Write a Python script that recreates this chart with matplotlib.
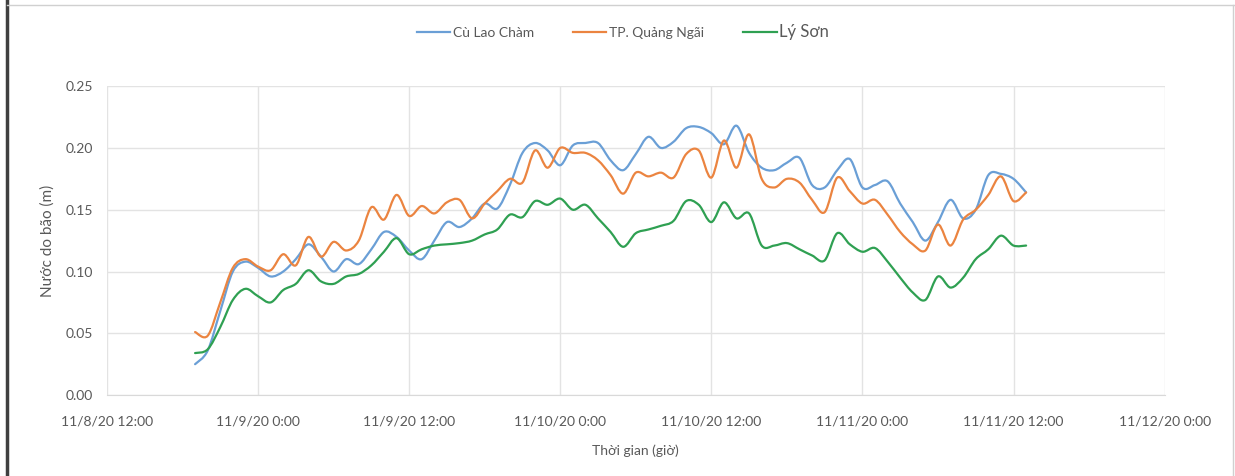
import matplotlib
matplotlib.use("Agg")
import matplotlib.pyplot as plt
import matplotlib.dates as mdates
from matplotlib.ticker import FuncFormatter
from matplotlib.lines import Line2D
from matplotlib.path import Path
from matplotlib.patches import PathPatch
import pandas as pd

plt.rcParams["font.family"] = ["Lato", "DejaVu Sans"]

# hourly readings, 11/8/20 19:00 -> 11/11/20 13:00
times = pd.date_range("2020-11-08 19:00", "2020-11-11 13:00", freq="h")

cu_lao_cham = [
    0.025, 0.036, 0.068, 0.100, 0.108, 0.103, 0.096, 0.100, 0.110, 0.122,
    0.112, 0.100, 0.110, 0.106, 0.118, 0.132, 0.128, 0.117, 0.110, 0.125,
    0.140, 0.136, 0.143, 0.155, 0.151, 0.170, 0.196, 0.204, 0.198, 0.186,
    0.202, 0.204, 0.204, 0.190, 0.182, 0.195, 0.209, 0.200, 0.205, 0.216,
    0.217, 0.212, 0.203, 0.218, 0.196, 0.184, 0.182, 0.188, 0.192, 0.170,
    0.168, 0.182, 0.191, 0.168, 0.170, 0.173, 0.155, 0.140, 0.125, 0.140,
    0.158, 0.143, 0.150, 0.178, 0.179, 0.175, 0.164,
]
quang_ngai = [
    0.051, 0.048, 0.075, 0.103, 0.110, 0.104, 0.101, 0.114, 0.105, 0.128,
    0.112, 0.124, 0.117, 0.125, 0.152, 0.142, 0.162, 0.145, 0.153, 0.147,
    0.156, 0.158, 0.143, 0.155, 0.165, 0.175, 0.172, 0.198, 0.184, 0.200,
    0.196, 0.196, 0.190, 0.178, 0.163, 0.180, 0.177, 0.180, 0.176, 0.195,
    0.198, 0.176, 0.206, 0.184, 0.211, 0.175, 0.168, 0.175, 0.172, 0.158,
    0.148, 0.176, 0.165, 0.155, 0.158, 0.146, 0.132, 0.122, 0.117, 0.138,
    0.121, 0.142, 0.150, 0.162, 0.177, 0.157, 0.164,
]
ly_son = [
    0.034, 0.037, 0.055, 0.077, 0.086, 0.080, 0.075, 0.085, 0.090, 0.101,
    0.092, 0.090, 0.096, 0.098, 0.105, 0.116, 0.127, 0.114, 0.118, 0.121,
    0.122, 0.123, 0.125, 0.130, 0.134, 0.146, 0.144, 0.157, 0.154, 0.159,
    0.150, 0.154, 0.143, 0.132, 0.120, 0.131, 0.134, 0.137, 0.141, 0.157,
    0.154, 0.140, 0.156, 0.143, 0.147, 0.121, 0.121, 0.123, 0.118, 0.113,
    0.109, 0.131, 0.122, 0.116, 0.119, 0.108, 0.095, 0.083, 0.077, 0.096,
    0.087, 0.095, 0.110, 0.118, 0.129, 0.121, 0.121,
]

series_names = ["Cù Lao Chàm", "TP. Quảng Ngãi", "Lý Sơn"]
colors = ["#6A9FD6", "#EB8440", "#2FA052"]


def smooth_path(xs, ys):
    """Excel-style smoothed line: cubic Bezier through every point."""
    verts = [(xs[0], ys[0])]
    codes = [Path.MOVETO]
    n = len(xs)
    for i in range(n - 1):
        x0, y0 = (xs[i - 1], ys[i - 1]) if i > 0 else (xs[i], ys[i])
        x1, y1 = xs[i], ys[i]
        x2, y2 = xs[i + 1], ys[i + 1]
        x3, y3 = (xs[i + 2], ys[i + 2]) if i + 2 < n else (x2, y2)
        verts += [(x1 + (x2 - x0) / 6, y1 + (y2 - y0) / 6),
                  (x2 - (x3 - x1) / 6, y2 - (y3 - y1) / 6),
                  (x2, y2)]
        codes += [Path.CURVE4] * 3
    return Path(verts, codes)


fig = plt.figure(figsize=(12.35, 4.76), dpi=100)
ax = fig.add_axes([0.0866, 0.170, 0.8564, 0.649])

xnum = list(mdates.date2num(times))
handles = []
for vals, name, c in zip([cu_lao_cham, quang_ngai, ly_son], series_names, colors):
    ax.add_patch(PathPatch(smooth_path(xnum, vals), fill=False, edgecolor=c,
                           lw=1.6, joinstyle="round", capstyle="round"))
    handles.append(Line2D([], [], color=c, lw=1.6, label=name))

ax.set_xlim(pd.Timestamp("2020-11-08 12:00"), pd.Timestamp("2020-11-12 00:00"))
ax.set_ylim(0, 0.25)
ax.set_yticks([0, 0.05, 0.10, 0.15, 0.20, 0.25])
ax.yaxis.set_major_formatter(FuncFormatter(lambda v, p: f"{v:.2f}"))
ax.xaxis.set_major_locator(mdates.HourLocator(byhour=[0, 12]))


def fmt_date(x, pos):
    d = mdates.num2date(x)
    return f"{d.month}/{d.day}/{d.strftime('%y')} {d.hour}:{d.minute:02d}"


ax.xaxis.set_major_formatter(FuncFormatter(fmt_date))

ax.grid(True, color="#E3E3E3", lw=1)
ax.set_axisbelow(True)
for s in ["top", "right", "left"]:
    ax.spines[s].set_visible(False)
ax.spines["bottom"].set_color("#D9D9D9")
ax.tick_params(axis="x", length=0, labelsize=10, colors="#595959", pad=15)
ax.tick_params(axis="y", length=0, labelsize=10, colors="#595959", pad=10)

ax.set_xlabel("Thời gian (giờ)", fontsize=10, color="#595959", labelpad=12)
ax.set_ylabel("Nước do bão (m)", fontsize=11, color="#595959", labelpad=8)

leg = ax.legend(handles=handles, loc="center", bbox_to_anchor=(0.488, 1.175), ncol=3,
                frameon=False, fontsize=10, handlelength=2.4, columnspacing=2.8,
                handletextpad=0.2, labelcolor="#595959")
leg.get_texts()[2].set_fontsize(12)

# frame around the picture
fig.add_artist(Line2D([0.006, 0.006], [0, 1], color="#404040", lw=2.5))
fig.add_artist(Line2D([0.006, 1], [0.99, 0.99], color="#D0D0D0", lw=1))
fig.add_artist(Line2D([0.998, 0.998], [0, 0.99], color="#D0D0D0", lw=1))

fig.savefig("out.png", dpi=100)
